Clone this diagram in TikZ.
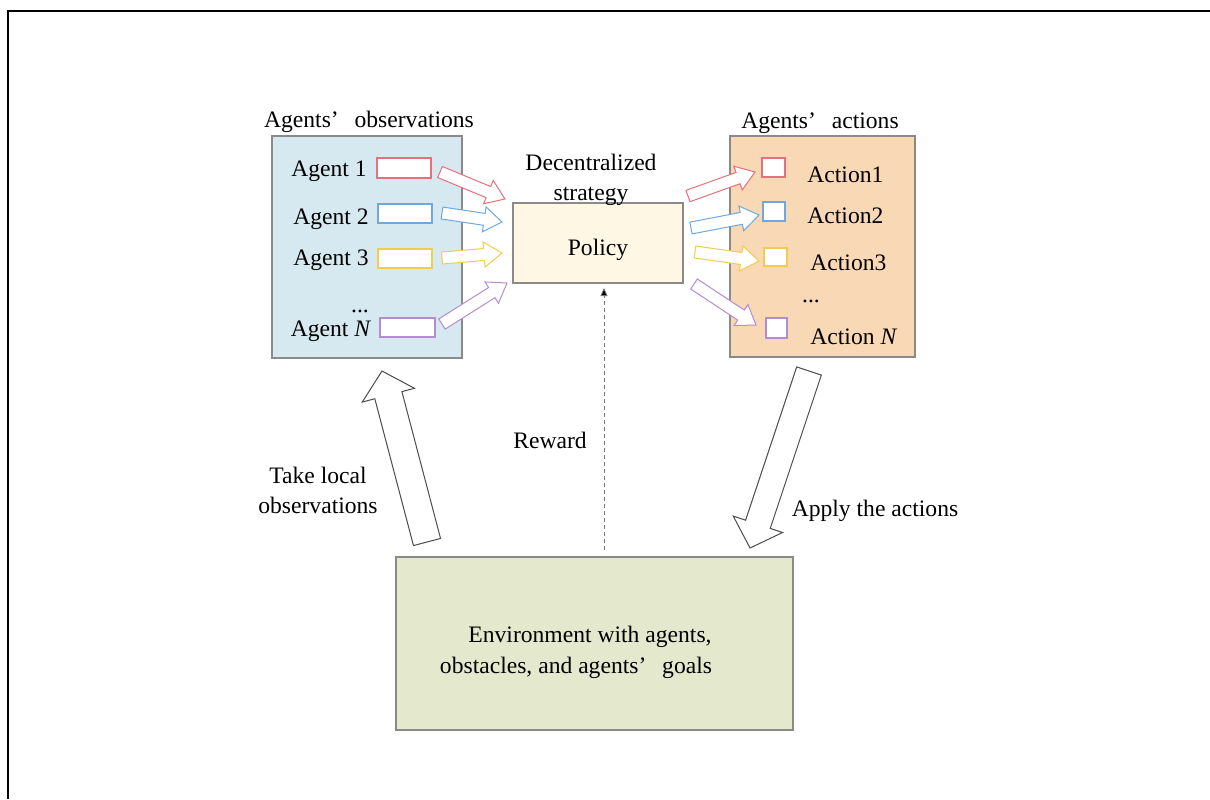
\documentclass[tikz,border=0pt]{standalone}
\usepackage{fontspec}
\setmainfont{Liberation Serif}
\usetikzlibrary{calc,arrows.meta}
\definecolor{obsfill}{HTML}{D6E9F0}
\definecolor{polfill}{HTML}{FDF7E3}
\definecolor{actfill}{HTML}{F9D8B5}
\definecolor{envfill}{HTML}{E4E9CE}
\definecolor{cred}{HTML}{E8707A}
\definecolor{cblue}{HTML}{6FA8DC}
\definecolor{cyel}{HTML}{F2CC4A}
\definecolor{cpur}{HTML}{B48CD2}
\definecolor{bord}{HTML}{8A8A8A}
\newcommand\harrow[6]{%
  \coordinate (hb) at ($(#2)!#6!(#1)$);
  \draw[#3, fill=white, line width=0.5pt, line join=miter]
    ($(#1)!#4!-90:(#2)$) -- ($(hb)!#4!90:(#1)$) -- ($(hb)!#5!90:(#1)$) -- (#2)
    -- ($(hb)!#5!-90:(#1)$) -- ($(hb)!#4!-90:(#1)$) -- ($(#1)!#4!90:(#2)$) -- cycle;}
\tikzset{
  txt/.style={font=\fontsize{11.8}{14}\selectfont, inner sep=0pt, yshift=-1.5pt},
  bigbox/.style={draw=bord, line width=0.6pt},
  smallbox/.style={draw, fill=white, line width=0.6pt, inner sep=0pt},
}
\begin{document}
\begin{tikzpicture}[x=0.5pt,y=-0.5pt]
\useasboundingbox (0,0) rectangle (1210,799);
% frame
\coordinate (f1) at (1210,11); \coordinate (f2) at (8,11); \coordinate (f3) at (8,799);
\draw[line width=1.3pt] (f1) -- (f2) -- (f3);

% big boxes
\node[bigbox, fill=obsfill, minimum width=95pt, minimum height=111pt] (obs) at (367,247) {};
\node[bigbox, fill=polfill, minimum width=85pt, minimum height=40pt] (pol) at (598,243) {};
\node[bigbox, fill=actfill, minimum width=92.5pt, minimum height=110.5pt] (act) at (822.5,246.5) {};
\node[bigbox, fill=envfill, minimum width=198.5pt, minimum height=86.5pt] (env) at (594.5,643.5) {};

% titles
\node[txt] (tobs) at (369,119) {Agents’\hspace{0.67em}observations};
\node[txt] (tact) at (820,120) {Agents’\hspace{0.67em}actions};
\node[txt, align=center] (tdec) at (591,177) {Decentralized\\[1pt]strategy};
\node[txt] (tpol) at (598,247) {Policy};
\node[txt] (tenv1) at (590,634) {Environment with agents,};
\node[txt] (tenv2) at (576,665) {obstacles, and agents’\hspace{0.67em}goals};
\node[txt] (trew) at (550,437) {Reward};
\node[txt, align=center] (ttake) at (318,487) {Take local\\[1pt]observations};
\node[txt] (tapply) at (875,508) {Apply the actions};

% agents
\node[txt] (ag1) at (329,168) {Agent 1};
\node[txt] (ag2) at (331,216) {Agent 2};
\node[txt] (ag3) at (331,257) {Agent 3};
\node[txt] (agd) at (360,308) {...};
\node[txt] (agN) at (331,328) {Agent \textit{N}};

\node[smallbox, draw=cred, minimum width=27pt, minimum height=10pt] (r1) at (404,168) {};
\node[smallbox, draw=cblue, minimum width=27pt, minimum height=9.5pt] (r2) at (405,213.5) {};
\node[smallbox, draw=cyel, minimum width=27pt, minimum height=9.5pt] (r3) at (405,258.5) {};
\node[smallbox, draw=cpur, minimum width=27.5pt, minimum height=9.5pt] (rN) at (407.5,327.5) {};

% actions
\node[txt, anchor=west] (ac1) at (807,172) {Action1};
\node[txt, anchor=west] (ac2) at (807,213) {Action2};
\node[txt, anchor=west] (ac3) at (810,260) {Action3};
\node[txt] (acd) at (811,298) {...};
\node[txt, anchor=west] (acN) at (810,334) {Action \textit{N}};

\node[smallbox, draw=cred, minimum width=11.5pt, minimum height=9.5pt] (s1) at (773.5,167.5) {};
\node[smallbox, draw=cblue, minimum width=11pt, minimum height=9.5pt] (s2) at (774,211.5) {};
\node[smallbox, draw=cyel, minimum width=11.5pt, minimum height=9pt] (s3) at (775.5,257) {};
\node[smallbox, draw=cpur, minimum width=10.5pt, minimum height=10pt] (sN) at (776.5,328) {};

% arrow end coordinates
\coordinate (a1s) at (440,172); \coordinate (a1e) at (505,199);
\coordinate (a2s) at (442,213); \coordinate (a2e) at (502,222);
\coordinate (a3s) at (442,258); \coordinate (a3e) at (502,253);
\coordinate (aNs) at (442,324); \coordinate (aNe) at (507,283);
\coordinate (b1s) at (688,196); \coordinate (b1e) at (755,172);
\coordinate (b2s) at (691,228); \coordinate (b2e) at (759,215);
\coordinate (b3s) at (695,252); \coordinate (b3e) at (759,261);
\coordinate (bNs) at (694,284); \coordinate (bNe) at (756,325);
\harrow{a1s}{a1e}{cred}{3pt}{6.3pt}{9pt}
\harrow{a2s}{a2e}{cblue}{3pt}{6.3pt}{9pt}
\harrow{a3s}{a3e}{cyel}{3pt}{6.3pt}{9pt}
\harrow{aNs}{aNe}{cpur}{3pt}{6.3pt}{9pt}
\harrow{b1s}{b1e}{cred}{3pt}{6.3pt}{9pt}
\harrow{b2s}{b2e}{cblue}{3pt}{6.3pt}{9pt}
\harrow{b3s}{b3e}{cyel}{3pt}{6.3pt}{9pt}
\harrow{bNs}{bNe}{cpur}{3pt}{6.3pt}{9pt}

% big arrows
\coordinate (up1) at (427,542); \coordinate (up2) at (382,371);
\coordinate (dn1) at (809,371); \coordinate (dn2) at (750,548);
\harrow{up1}{up2}{black!70}{7pt}{13.5pt}{12.5pt}
\harrow{dn1}{dn2}{black!70}{6.5pt}{13pt}{12.5pt}

% reward dashed
\coordinate (rw1) at (604,550); \coordinate (rw2) at (604,288);
\draw[black!55, line width=0.4pt, dash pattern=on 2pt off 1.5pt, -{Triangle[length=4pt,width=3.5pt,fill=black]}] (rw1) -- (rw2);
\end{tikzpicture}
\end{document}
